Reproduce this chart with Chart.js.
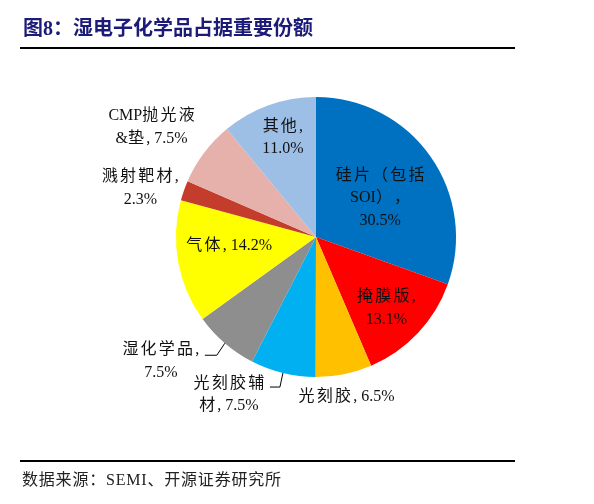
<!DOCTYPE html>
<html>
<head>
<meta charset="utf-8">
<script src="https://cdn.jsdelivr.net/npm/chart.js@4"></script>
<style>
  body { margin: 0; background: #fff; }
  #wrap { position: relative; width: 594px; height: 504px; overflow: hidden; }
  #chart { position: absolute; left: 0; top: 0; }
  .title {
    position: absolute; left: 23px; top: 12px;
    font: bold 20px "Liberation Serif", "Noto Sans CJK SC", serif;
    color: #1c1c78; letter-spacing: 0px;
  }
  .rule { position: absolute; left: 20px; width: 495px; height: 2px; background: #000; }
  .source {
    position: absolute; left: 22px; top: 466px;
    font: 16px "Liberation Serif", "Noto Sans CJK SC", serif;
    color: #222; letter-spacing: 0.8px;
  }
</style>
</head>
<body>
<div id="wrap">
  <canvas id="chart" width="594" height="504"></canvas>
  <div class="title">图8：湿电子化学品占据重要份额</div>
  <div class="rule" style="top:47px"></div>
  <div class="rule" style="top:460px"></div>
  <div class="source">数据来源：SEMI、开源证券研究所</div>
</div>
<script>
// data (share of materials market, %)
const categories = ["硅片（包括SOI）", "掩膜版", "光刻胶", "光刻胶辅材", "湿化学品", "气体", "溅射靶材", "CMP抛光液&垫", "其他"];
const shares = [30.5, 13.1, 6.5, 7.5, 7.5, 14.2, 2.3, 7.5, 11.0];
// label text as printed, one entry per line
const labelLines = [
  ["硅片（包括", "SOI），", "30.5%"],
  ["掩膜版,", "13.1%"],
  ["光刻胶, 6.5%"],
  ["光刻胶辅", "材, 7.5%"],
  ["湿化学品,", "7.5%"],
  ["气体, 14.2%"],
  ["溅射靶材,", "2.3%"],
  ["CMP抛光液", "&垫, 7.5%"],
  ["其他,", "11.0%"]
];
const colors = ["#0070C0", "#FF0000", "#FFC000", "#00B0F0", "#8E8E8E", "#FFFF00", "#C43C2C", "#E6B1AA", "#9DBFE6"];

// where each label sits: fraction of radius along slice middle, then a nudge
const labelPlace = [
  { f: 0.56, dx: 0, dy: 6 },
  { f: 0.69, dx: 0, dy: 5 },
  { f: 1.165, dx: -2, dy: 0 },
  { f: 1.0, dx: -54, dy: 22, leader: [[-3, 14], [-13, 14]] },
  { f: 1.0, dx: -64, dy: 18, leader: [[-8, 12], [-20, 12]] },
  { f: 0.63, dx: 0, dy: -7 },
  { f: 1.33, dx: 0, dy: 13 },
  { f: 1.47, dx: 0, dy: 14 },
  { f: 0.70, dx: 0, dy: -7 }
];

const cjkGap = 2.2;
const isCjk = (ch) => /[\u3000-\u9fff\uff00-\uffef]/.test(ch);

// draw a line centred on cx, with a little extra room after CJK glyphs
function drawMixed(ctx, text, cx, y) {
  const chars = Array.from(text);
  const widths = chars.map((ch) => ctx.measureText(ch).width + (isCjk(ch) ? cjkGap : 0));
  const total = widths.reduce((a, b) => a + b, 0) - (isCjk(chars[chars.length - 1]) ? cjkGap : 0);
  let x = cx - total / 2;
  chars.forEach((ch, k) => {
    ctx.fillText(ch, x, y);
    x += widths[k];
  });
}

const sliceLabels = {
  id: "sliceLabels",
  afterDatasetsDraw(chart) {
    const ctx = chart.ctx;
    const meta = chart.getDatasetMeta(0);
    ctx.save();
    ctx.font = '16px "Liberation Serif", "Noto Sans CJK SC", serif';
    ctx.fillStyle = "#111";
    ctx.textAlign = "left";
    ctx.textBaseline = "middle";
    meta.data.forEach((arc, i) => {
      const p = arc.getProps(["x", "y", "startAngle", "endAngle", "outerRadius"], true);
      const mid = (p.startAngle + p.endAngle) / 2;
      const place = labelPlace[i];
      const ax = p.x + Math.cos(mid) * p.outerRadius * place.f;
      const ay = p.y + Math.sin(mid) * p.outerRadius * place.f;
      if (place.leader) {
        ctx.strokeStyle = "#000";
        ctx.lineWidth = 1;
        ctx.beginPath();
        ctx.moveTo(ax, ay);
        place.leader.forEach(([lx, ly]) => ctx.lineTo(ax + lx, ay + ly));
        ctx.stroke();
      }
      const lines = labelLines[i];
      const lh = 22.5;
      const cx = ax + place.dx;
      const cy = ay + place.dy - (lines.length - 1) * lh / 2;
      lines.forEach((t, k) => drawMixed(ctx, t, cx, cy + k * lh));
    });
    ctx.restore();
  }
};

new Chart(document.getElementById("chart"), {
  type: "pie",
  data: {
    labels: categories,
    datasets: [{
      data: shares,
      backgroundColor: colors,
      borderWidth: 0
    }]
  },
  options: {
    responsive: false,
    animation: false,
    layout: { padding: { left: 176, top: 97, right: 138, bottom: 127 } },
    plugins: { legend: { display: false }, tooltip: { enabled: false } }
  },
  plugins: [sliceLabels]
});
</script>
</body>
</html>
